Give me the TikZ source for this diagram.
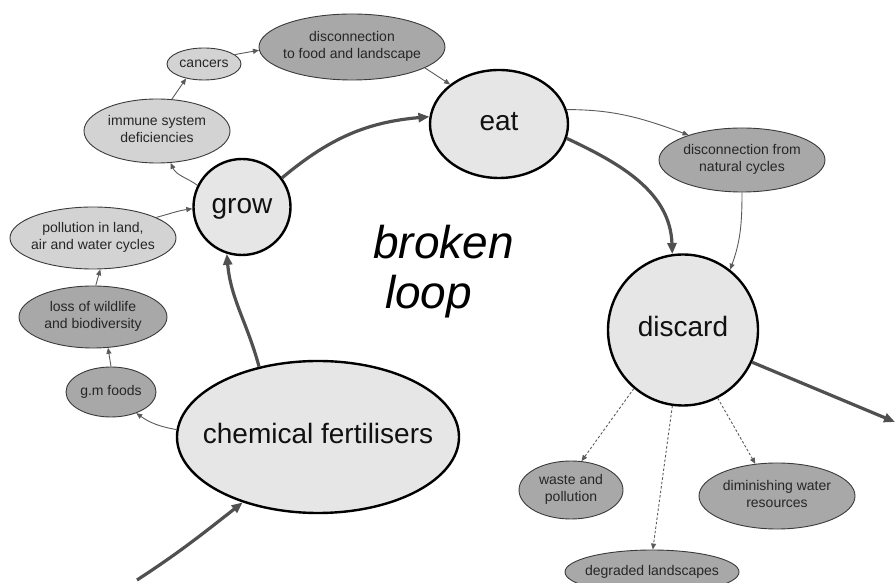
\documentclass[tikz,border=0pt]{standalone}
\usepackage{fontspec}
\setmainfont{Liberation Sans}
\usetikzlibrary{shapes.geometric,arrows.meta}
\definecolor{bigfill}{HTML}{E6E6E6}
\definecolor{lightfill}{HTML}{D3D3D3}
\definecolor{darkfill}{HTML}{A8A8A8}
\definecolor{edgecol}{HTML}{3A3A3A}
\definecolor{heavycol}{HTML}{505050}
\definecolor{linkcol}{HTML}{5A5A5A}
\definecolor{txtsmall}{HTML}{262626}
\definecolor{txtbig}{HTML}{111111}
\newcommand{\zw}[1]{\makebox[0pt]{\begin{tabular}{@{}c@{}}#1\end{tabular}}}
\begin{document}
\begin{tikzpicture}[x=1pt,y=1pt,
  big/.style={ellipse,draw=black,line width=2.4pt,fill=bigfill,inner sep=0pt,
    font=\fontsize{28}{32}\selectfont,text=txtbig},
  small/.style={ellipse,draw=edgecol,line width=0.9pt,inner sep=0pt,
    font=\fontsize{14}{17}\selectfont,text=txtsmall},
  light/.style={small,fill=lightfill},
  dark/.style={small,fill=darkfill},
  bigarrow/.style={draw=heavycol,line width=3.2pt,-{Triangle[length=11pt,width=9pt]}},
  link/.style={draw=linkcol,line width=0.9pt,-{Triangle[length=6pt,width=5pt]}},
  dashline/.style={link,dash pattern=on 2.5pt off 2pt}
]
\useasboundingbox (0,0) rectangle (896,583);
\clip (0,0) rectangle (896,583);

% main nodes
\node[big,minimum width=138,minimum height=108] (eat) at (499,459) {\zw{eat}};
\node[big,minimum width=97,minimum height=96] (grow) at (242,376) {\zw{grow}};
\node[big,minimum width=150,minimum height=151] (discard) at (683,253) {\zw{discard}};
\node[big,minimum width=282,minimum height=152] (chem) at (318,146) {\zw{chemical fertilisers}};

% small nodes
\node[light,minimum width=74,minimum height=32] (cancers) at (204,519) {\zw{cancers}};
\node[dark,minimum width=186,minimum height=66] (food) at (352,536) {\zw{disconnection\\to food and landscape}};
\node[light,minimum width=146,minimum height=64] (immune) at (157,452) {\zw{immune system\\deficiencies}};
\node[light,minimum width=166,minimum height=62] (pollution) at (93,345) {\zw{pollution in land,\\air and water cycles}};
\node[dark,minimum width=148,minimum height=62] (loss) at (93,266) {\zw{loss of wildlife\\and biodiversity}};
\node[dark,minimum width=90,minimum height=50] (gm) at (111,191) {\zw{g.m foods}};
\node[dark,minimum width=166,minimum height=64] (natural) at (742,423) {\zw{disconnection from\\natural cycles}};
\node[dark,minimum width=104,minimum height=58] (waste) at (571,93) {\zw{waste and\\pollution}};
\node[dark,minimum width=156,minimum height=66] (diminishing) at (777,87) {\zw{diminishing water\\resources}};
\node[dark,minimum width=174,minimum height=44] (degraded) at (652,11) {\zw{degraded landscapes}};

% title
\node[font=\fontsize{46}{50}\selectfont\itshape,text=black,align=left,anchor=north west,inner sep=0pt] (title) at (373,358) {broken\\\hspace*{12pt}loop};

% free ends
\coordinate (inlet) at (137,3);
\coordinate (outlet) at (895,161);

% heavy loop arrows
\draw[bigarrow] (inlet) to[out=33,in=218] (chem.221);
\draw[bigarrow] (chem.130) to[out=105,in=-85] (grow.252);
\draw[bigarrow] (grow.36) to[out=40,in=185] (eat.174);
\draw[bigarrow] (eat.348) to[out=-25,in=92] (discard.98);
\draw[bigarrow] (discard.335) -- (outlet);

% thin links
\draw[link] (grow.154) to[out=145,in=-65] (immune.293);
\draw[link] (immune.65) -- (cancers.219);
\draw[link] (cancers.17) -- (food.182);
\draw[link] (food.344) -- (eat.141);
\draw[link] (pollution.18) to[out=15,in=188] (grow.182);
\draw[link] (loss.85) -- (pollution.283);
\draw[link] (gm.90) -- (loss.296);
\draw[link] (chem.177) to[out=170,in=-35] (gm.320);
\draw[link] (eat.12) to[out=0,in=160] (natural.155);
\draw[link] (natural.270) to[out=-90,in=70] (discard.52);

% dashed links
\draw[dashline] (discard.230) -- (waste.70);
\draw[dashline] (discard.262) -- (degraded.88);
\draw[dashline] (discard.297) -- (diminishing.124);
\end{tikzpicture}
\end{document}
